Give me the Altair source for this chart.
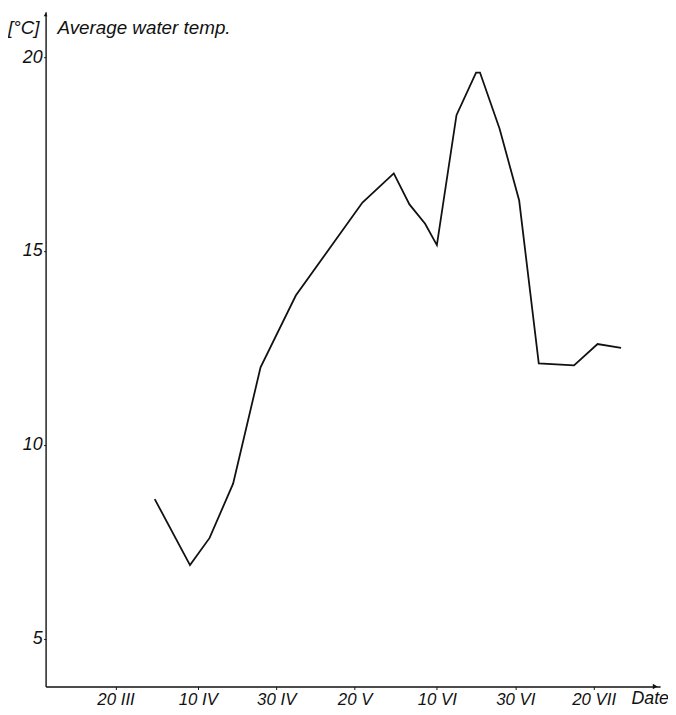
import altair as alt
import pandas as pd

# Observation dates (year arbitrary) and average water temperature [°C]
dates = ["2023-03-30", "2023-04-08", "2023-04-13", "2023-04-19", "2023-04-26",
         "2023-05-05", "2023-05-22", "2023-05-30", "2023-06-03", "2023-06-07",
         "2023-06-10", "2023-06-15", "2023-06-20", "2023-06-21", "2023-06-26",
         "2023-07-01", "2023-07-06", "2023-07-15", "2023-07-21", "2023-07-27"]
temps = [8.6, 6.9, 7.6, 9.0, 12.0,
         13.85, 16.25, 17.0, 16.2, 15.7,
         15.15, 18.5, 19.6, 19.6, 18.15,
         16.3, 12.1, 12.05, 12.6, 12.5]

x_ticks = [(2023, 3, 20), (2023, 4, 10), (2023, 4, 30), (2023, 5, 20),
           (2023, 6, 10), (2023, 6, 30), (2023, 7, 20)]
y_ticks = [5, 10, 15, 20]
roman = ["I", "II", "III", "IV", "V", "VI", "VII", "VIII", "IX", "X", "XI", "XII"]

df = pd.DataFrame({"date": dates, "temp": temps})

W, H = 621, 682
FONT = "Liberation Sans"

x_domain = [alt.DateTime(year=2023, month=3, date=2, hours=3, minutes=36, utc=True),
            alt.DateTime(year=2023, month=8, date=5, hours=23, utc=True)]
y_domain = [3.767, 21.17]

roman_js = "[" + ",".join("'" + r + "'" for r in roman) + "]"
label_expr = "utcdate(datum.value) + ' ' + " + roman_js + "[utcmonth(datum.value)]"

line = alt.Chart(df).mark_line(color="#111111", strokeWidth=1.8, clip=False).encode(
    x=alt.X("date:T",
            scale=alt.Scale(type="utc", domain=x_domain),
            axis=alt.Axis(values=[alt.DateTime(year=y, month=m, date=d, utc=True) for (y, m, d) in x_ticks],
                          labelExpr=label_expr, title=None, grid=False,
                          labelFontSize=17, labelFont=FONT, labelFontStyle="italic",
                          labelColor="#111111", labelBaseline="alphabetic", labelPadding=15,
                          tickSize=3, tickColor="#111111", domainColor="#111111",
                          domainWidth=1.4, labelFlush=False)),
    y=alt.Y("temp:Q",
            scale=alt.Scale(domain=y_domain, nice=False, zero=False),
            axis=alt.Axis(values=y_ticks, title=None, grid=False,
                          labelFontSize=18, labelFont=FONT, labelFontStyle="italic",
                          labelColor="#111111", labelPadding=1.5, tickSize=2,
                          tickColor="#111111", domainColor="#111111", domainWidth=1.4,
                          labelFlush=False)),
)

def text_layer(txt, x, y, size):
    return alt.Chart(pd.DataFrame({"t": [txt]})).mark_text(
        font=FONT, fontStyle="italic", fontSize=size, align="left",
        baseline="alphabetic", color="#111111", clip=False
    ).encode(text="t:N", x=alt.value(x), y=alt.value(y))

unit = text_layer("[°C]", -38, 23, 19)
ytitle = text_layer("Average water temp.", 12, 23, 19)
xtitle = text_layer("Date", 592, 700, 18)

arrow_x = alt.Chart(pd.DataFrame({"a": [1]})).mark_point(
    shape="triangle-right", filled=True, color="#111111", size=30, opacity=1, clip=False
).encode(x=alt.value(W - 5), y=alt.value(H))
arrow_y = alt.Chart(pd.DataFrame({"a": [1]})).mark_point(
    shape="triangle-up", filled=True, color="#111111", size=14, opacity=1, clip=False
).encode(x=alt.value(0), y=alt.value(3))

chart = alt.layer(line, unit, ytitle, xtitle, arrow_x, arrow_y).properties(
    width=W, height=H,
    background="white",
    autosize=alt.AutoSizeParams(type="none"),
    padding={"left": 38, "top": 0, "right": 8, "bottom": 22},
).configure_view(stroke=None, strokeWidth=0)

chart.save("out.html", embed_options={"renderer": "svg", "actions": False})
